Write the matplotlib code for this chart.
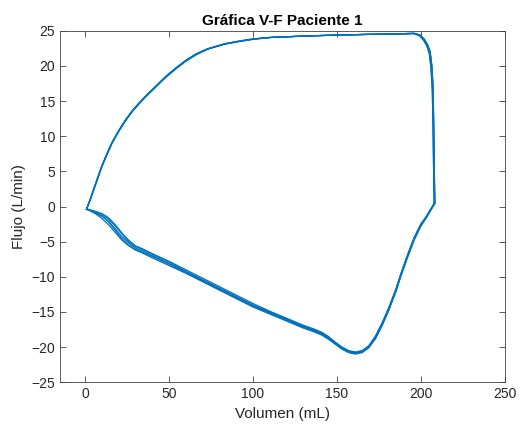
import matplotlib
matplotlib.use("Agg")
import matplotlib.pyplot as plt

# Upper branch, two slightly different cycles
x_up = [0.8, 3, 5, 7.5, 10, 13, 16, 20, 24, 28, 32, 36, 42, 48, 54, 60, 66, 73, 83, 92, 100,
        110, 130, 150, 170, 190, 196, 199.5, 202, 204, 205.5, 206.5, 207.2, 207.6, 207.9,
        208.1, 208.3]
y_up1 = [-0.4, 0.9, 2.3, 4.0, 5.7, 7.4, 9.0, 10.7, 12.2, 13.5, 14.6, 15.6, 17.0, 18.4, 19.6,
         20.7, 21.6, 22.4, 23.1, 23.5, 23.8, 24.05, 24.25, 24.4, 24.5, 24.6, 24.65, 24.4,
         23.8, 23.0, 22.0, 20.0, 17.0, 12.0, 7.0, 3.0, 0.5]
x_up2 = [0.8, 3, 5, 7.5, 10, 13, 16, 20, 24, 28, 32, 36, 42, 48, 54, 60, 66, 73, 83, 92, 100,
         110, 130, 150, 170, 190, 195.5, 199, 201.5, 203.5, 205, 206, 206.8, 207.2, 207.5,
         207.7, 207.9]
y_up2 = [-0.4, 1.0, 2.4, 4.1, 5.8, 7.5, 9.1, 10.8, 12.3, 13.6, 14.7, 15.7, 17.1, 18.5, 19.7,
         20.8, 21.7, 22.45, 23.15, 23.55, 23.85, 24.05, 24.25, 24.4, 24.5, 24.55, 24.6, 24.35,
         23.7, 22.9, 21.8, 19.8, 16.5, 11.5, 6.5, 2.8, 0.4]

# Lower branch (shared x), several cycles
x_low = [208.3, 207, 205, 203, 200, 196, 192, 188, 185, 181, 177, 173, 169, 165, 161, 157,
         153, 149, 145, 141, 136, 130, 125, 120, 110, 100, 90, 80, 70, 60, 50, 40, 34, 30,
         26, 22, 18, 14, 10, 6, 3, 1]
y_lowA = [0.5, 0.0, -0.8, -1.6, -2.6, -4.6, -7.1, -9.8, -12.0, -14.5, -16.7, -18.6, -19.9,
          -20.6, -20.8, -20.6, -20.1, -19.4, -18.7, -18.1, -17.6, -17.1, -16.6, -16.1, -15.1,
          -14.1, -12.9, -11.7, -10.5, -9.3, -8.1, -7.0, -6.3, -5.9, -5.2, -4.3, -3.2, -2.1,
          -1.4, -0.9, -0.6, -0.4]
y_lowB = [0.6, 0.1, -0.7, -1.5, -2.5, -4.4, -6.9, -9.6, -11.8, -14.3, -16.5, -18.4, -19.8,
          -20.5, -20.7, -20.5, -20.0, -19.3, -18.5, -17.9, -17.4, -16.9, -16.4, -15.9, -14.9,
          -13.8, -12.6, -11.4, -10.2, -9.0, -7.8, -6.7, -6.0, -5.6, -4.8, -3.8, -2.6, -1.6,
          -1.0, -0.7, -0.5, -0.4]
y_lowC = [0.4, -0.1, -0.9, -1.7, -2.8, -4.8, -7.3, -10.0, -12.2, -14.7, -16.9, -18.8, -20.1,
          -20.8, -21.0, -20.8, -20.3, -19.6, -18.9, -18.3, -17.8, -17.3, -16.8, -16.3, -15.3,
          -14.3, -13.1, -11.9, -10.7, -9.5, -8.4, -7.3, -6.6, -6.2, -5.6, -4.8, -3.7, -2.6,
          -1.7, -1.0, -0.6, -0.4]
y_lowD = [0.5, 0.0, -0.8, -1.6, -2.6, -4.5, -7.0, -9.7, -11.9, -14.4, -16.6, -18.5, -19.9,
          -20.6, -20.9, -20.7, -20.2, -19.5, -18.8, -18.2, -17.7, -17.2, -16.7, -16.2, -15.2,
          -14.2, -13.0, -11.8, -10.6, -9.4, -8.2, -7.1, -6.5, -6.1, -5.5, -4.6, -3.4, -2.2,
          -1.3, -0.8, -0.5, -0.3]
y_lowE = [0.5, 0.0, -0.7, -1.5, -2.5, -4.5, -7.0, -9.8, -12.1, -14.6, -16.8, -18.7, -20.0,
          -20.7, -20.9, -20.6, -20.1, -19.4, -18.7, -18.0, -17.5, -17.0, -16.5, -16.0, -15.0,
          -14.0, -12.8, -11.6, -10.4, -9.2, -7.9, -6.8, -6.1, -5.7, -5.0, -3.9, -2.8, -1.8,
          -1.1, -0.7, -0.5, -0.4]

title = "Gráfica V-F Paciente 1"
xlabel = "Volumen (mL)"
ylabel = "Flujo (L/min)"
xticks = [0, 50, 100, 150, 200, 250]
yticks = [-25, -20, -15, -10, -5, 0, 5, 10, 15, 20, 25]

plt.rcParams['font.family'] = ['Liberation Sans', 'DejaVu Sans']
fig = plt.figure(figsize=(5.21, 4.28), dpi=100)
ax = fig.add_axes([0.115, 0.107, 0.854, 0.821])

color = '#0072BD'
uppers = [(x_up, y_up1), (x_up2, y_up2)]
lowers = [y_lowA, y_lowB, y_lowC, y_lowD, y_lowE]
for i, yl in enumerate(lowers):
    xu, yu = uppers[i % 2]
    ax.plot(list(xu) + list(x_low), list(yu) + list(yl), color=color, lw=0.9)

ax.set_xlim(-15, 250)
ax.set_ylim(-25, 25)
ax.set_xticks(xticks)
ax.set_yticks(yticks)
ax.tick_params(direction='in', top=True, right=True, length=4, width=0.6,
               colors='#404040', labelsize=10, labelcolor='#262626')
for s in ax.spines.values():
    s.set_color('#404040')
    s.set_linewidth(0.6)
ax.set_title(title, fontsize=11, fontweight='bold', pad=4)
ax.set_xlabel(xlabel, fontsize=11, color='#262626')
ax.set_ylabel(ylabel, fontsize=11, color='#262626')

fig.savefig('out.png', dpi=100)
